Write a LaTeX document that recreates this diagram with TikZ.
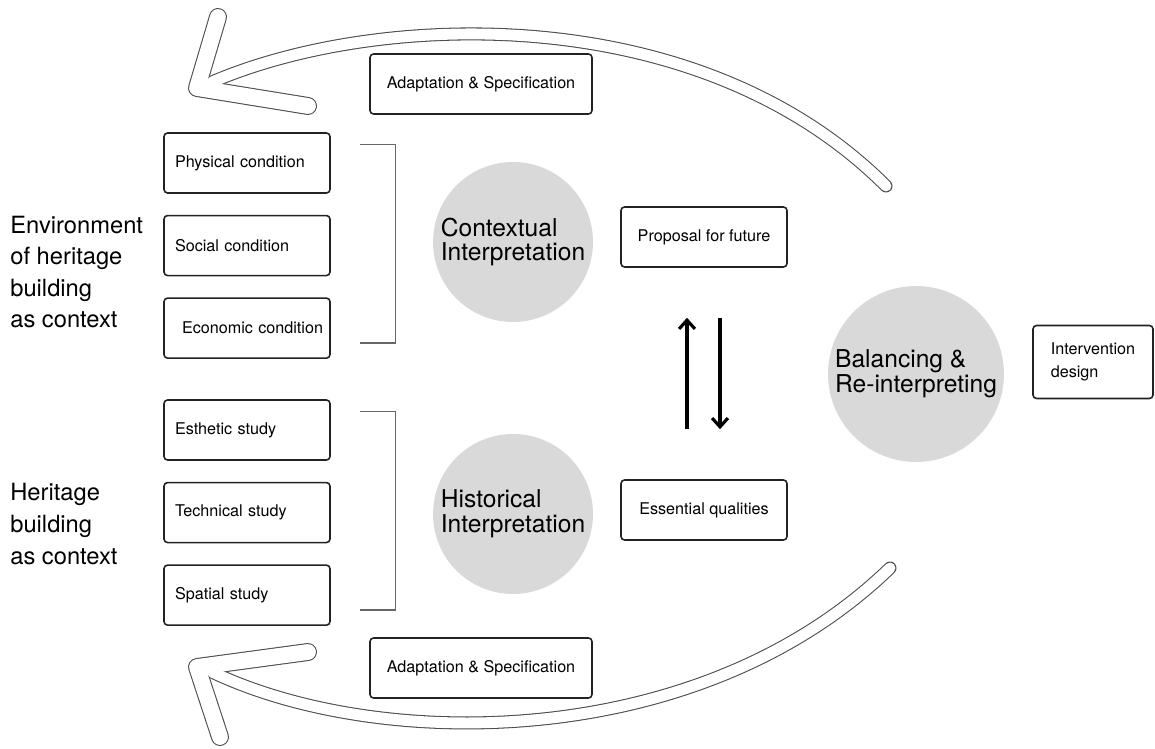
\documentclass[tikz,border=0pt]{standalone}
\usepackage{fontspec}
\setmainfont{TeX Gyre Heros}
\usetikzlibrary{chains,positioning,arrows.meta}
\definecolor{discgray}{RGB}{217,217,217}
\definecolor{framegray}{RGB}{34,34,34}

\begin{document}
\begin{tikzpicture}[x=0.02cm,y=-0.02cm,
    start chain=1 going below,start chain=2 going below,node distance=0.42cm,
    box/.style={draw=framegray,line width=0.9pt,rounded corners=2pt,inner sep=0pt,
      minimum width=3.32cm,minimum height=1.2cm,font=\fontsize{9.2}{12}\selectfont},
    cond/.style={box,text width=2.88cm,align=left,inner xsep=0.22cm},
    disc/.style={circle,fill=discgray,inner sep=0pt,align=left,
      font=\fontsize{14}{14.2}\selectfont},
    context/.style={anchor=west,inner sep=0pt,align=left,
      font=\fontsize{13.5}{18}\selectfont},
    brace/.style={draw=black!60,line width=0.7pt},
    flow/.style={line width=1.8pt,-{Straight Barb[length=5pt,width=9pt]}}
  ]
    \useasboundingbox (0,0) rectangle (1155,749);
    % hohle Rueckfuehrungspfeile: erst schwarz, dann weiss darueber
    \foreach \c/\a/\h in {black!70/7.4pt/10.2pt, white/6.2pt/9pt} {
        \draw[color=\c,line width=\a,line cap=round] (212,82) .. controls (380,10) and (700,0) .. (886,186);
        \draw[color=\c,line width=\h,line cap=round,line join=round] (218,17) -- (197,88) -- (308,106);
        \draw[color=\c,line width=\a,line cap=round] (212,672) .. controls (380,752) and (700,752) .. (890,568);
        \draw[color=\c,line width=\h,line cap=round,line join=round] (308,652) -- (197,667) -- (220,737);
    }
    \node [context] (envlbl) at (10,272) {Environment\\of heritage\\building\\as context};
    \node [context] (herlbl) at (10,524) {Heritage\\building\\as context};
    \node [cond,on chain=1] (phys) at (247,163) {Physical condition};
    \node [cond,on chain=1] (soc) {Social condition};
    \node [cond,on chain=1] (econ) {\hspace*{0.14cm}\mbox{Economic condition}};
    \node [cond,on chain=2] (esth) at (247,430) {Esthetic study};
    \node [cond,on chain=2] (tech) {Technical study};
    \node [cond,on chain=2] (spat) {Spatial study};
    \draw[brace] ([shift={(29,12)}]phys.north east) -- ++(36,0) |- ([shift={(29,-16)}]econ.south east);
    \draw[brace] ([shift={(29,12)}]esth.north east) -- ++(36,0) |- ([shift={(29,-16)}]spat.south east);
    \node [disc,minimum size=3.2cm] (ctx) at (513,242) {Contextual\\Interpretation};
    \node [disc,minimum size=3.2cm] (hist) at (513,514) {Historical\\Interpretation};
    \node [disc,minimum size=3.52cm] (bal) at (916,374) {Balancing \&\\Re-interpreting};
    \node [box,minimum width=4.44cm] (adtop) at (481,84) {Adaptation \& Specification};
    \node [box,minimum width=4.44cm] (adbot) at (481,668) {Adaptation \& Specification};
    \node [box] (prop) at (704,237) {Proposal for future};
    \node [box] (ess) at (704,510) {Essential qualities};
    \node [box,minimum width=2.4cm,minimum height=1.46cm,align=left,
        font=\fontsize{9.2}{13}\selectfont] (interv) at (1093,362) {Intervention\\design};
    \draw[flow] ([xshift=-0.34cm,yshift=1cm]ess.north) -- ([xshift=-0.34cm,yshift=-1cm]prop.south);
    \draw[flow] ([xshift=0.32cm,yshift=-1cm]prop.south) -- ([xshift=0.32cm,yshift=1cm]ess.north);
\end{tikzpicture}
\end{document}
